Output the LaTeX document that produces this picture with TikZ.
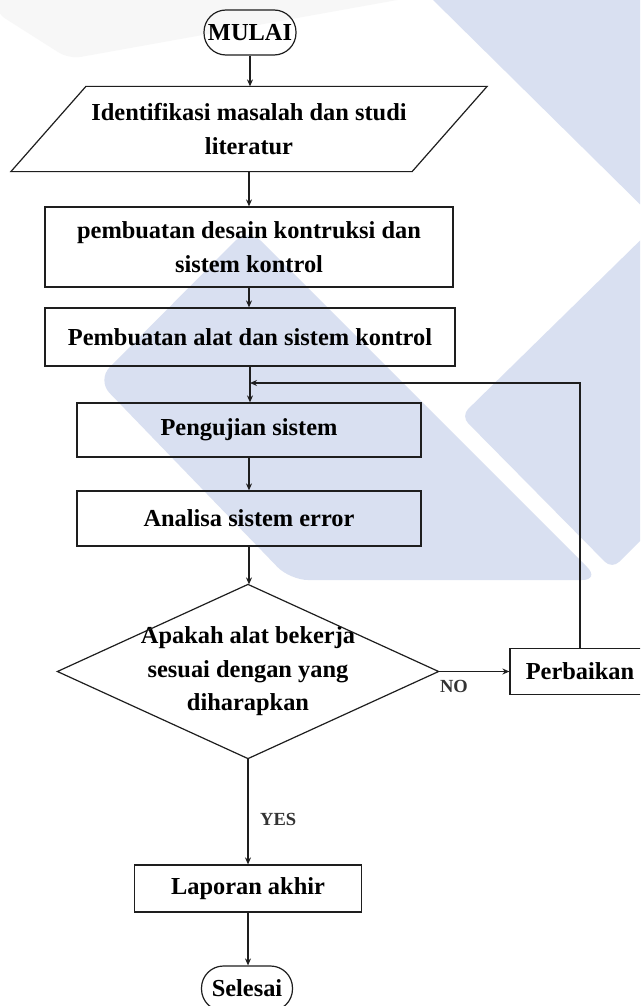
\documentclass[tikz,border=0pt]{standalone}
\usepackage{fontspec}
\setmainfont{Liberation Serif}
\usetikzlibrary{arrows.meta,calc}
\definecolor{wm}{RGB}{217,224,241}
\definecolor{wmg}{RGB}{247,247,247}
\definecolor{ink}{RGB}{30,30,30}
\tikzset{
  base/.style={font=\fontsize{24.4}{33.5}\selectfont\bfseries, align=center, inner sep=0pt, line width=1.2pt, draw=ink, text=black},
  proc/.style={base, rectangle},
  term/.style={base, rectangle, rounded corners=22pt},
  ghost/.style={base, draw=none},
  outline/.style={line width=1.2pt, draw=ink},
  arr/.style={line width=1.2pt, draw=ink, -{Stealth[length=7pt,width=6pt]}},
  lab/.style={font=\fontsize{18.5}{20}\selectfont\bfseries, inner sep=0pt, text=black!80}
}
\begin{document}
\begin{tikzpicture}[x=1pt,y=-1pt]
\useasboundingbox (0,0) rectangle (640,1006);
\clip (0,0) rectangle (640,1006);
\fill[white] (0,0) rectangle (640,1006);
% watermark shapes
\fill[wmg, rounded corners=12pt] (-5,-5) -- (425,-5) -- (69,59) -- (-5,12) -- cycle;
\fill[wm] (428,-5) -- (660,-5) -- (660,224) -- cycle;
\fill[wm, rounded corners=10pt] (660,221) -- (461,416) -- (612,569) -- (660,521) -- cycle;
\fill[wm, rounded corners=18pt] (248,228) -- (97,380) -- (290,580) -- (600,580) -- cycle;

% nodes
\node[term, minimum width=92pt, minimum height=45pt] (mulai) at (250,32.5) {MULAI};
\node[ghost, minimum width=400pt, minimum height=84pt] (ident) at (249,129) {Identifikasi masalah dan studi\\literatur};
\draw[outline] ($(ident.north west)+(37.5,0)$) -- ($(ident.north east)+(37.5,0)$) -- ($(ident.south east)+(-37.5,0)$) -- ($(ident.south west)+(-37.5,0)$) -- cycle;
\node[proc, minimum width=408pt, minimum height=80pt] (desain) at (249,247) {pembuatan desain kontruksi dan\\sistem kontrol};
\node[proc, minimum width=410pt, minimum height=58pt] (alat) at (250,337) {Pembuatan alat dan sistem kontrol};
\node[proc, minimum width=344pt, minimum height=54pt] (uji) at (249,430) {Pengujian sistem};
\node[proc, minimum width=344pt, minimum height=55pt] (analisa) at (249,518.5) {Analisa sistem error};
\node[ghost, minimum width=380pt, minimum height=173pt] (cek) at (248,671.5) {Apakah alat bekerja\\sesuai dengan yang\\diharapkan};
\draw[outline] (cek.north) -- (cek.east) -- (cek.south) -- (cek.west) -- cycle;
\node[proc, minimum width=140pt, minimum height=46pt] (perb) at (580,671.5) {Perbaikan};
\node[proc, minimum width=227pt, minimum height=47pt] (lapor) at (248,888.5) {Laporan akhir};
\node[term, minimum width=91pt, minimum height=45pt] (selesai) at (247,988.5) {Selesai};
\coordinate (merge) at (250,383);

% connectors
\draw[arr] (mulai.south) -- (mulai.south |- ident.north);
\draw[arr] (ident.south) -- (desain.north);
\draw[arr] (desain.south) -- (desain.south |- alat.north);
\draw[arr] (alat.south) -- (alat.south |- uji.north);
\draw[arr] (perb.north) |- (merge);
\draw[arr] (uji.south) -- (analisa.north);
\draw[arr] (analisa.south) -- (analisa.south |- cek.north);
\draw[arr] (cek.east) -- (perb.west);
\draw[arr] (cek.south) -- (lapor.north);
\draw[arr] (lapor.south) -- (lapor.south |- selesai.north);

% labels
\node[lab, anchor=west] (yes) at (260,819) {YES};
\node[lab] (no) at (454,686) {NO};
\end{tikzpicture}
\end{document}
